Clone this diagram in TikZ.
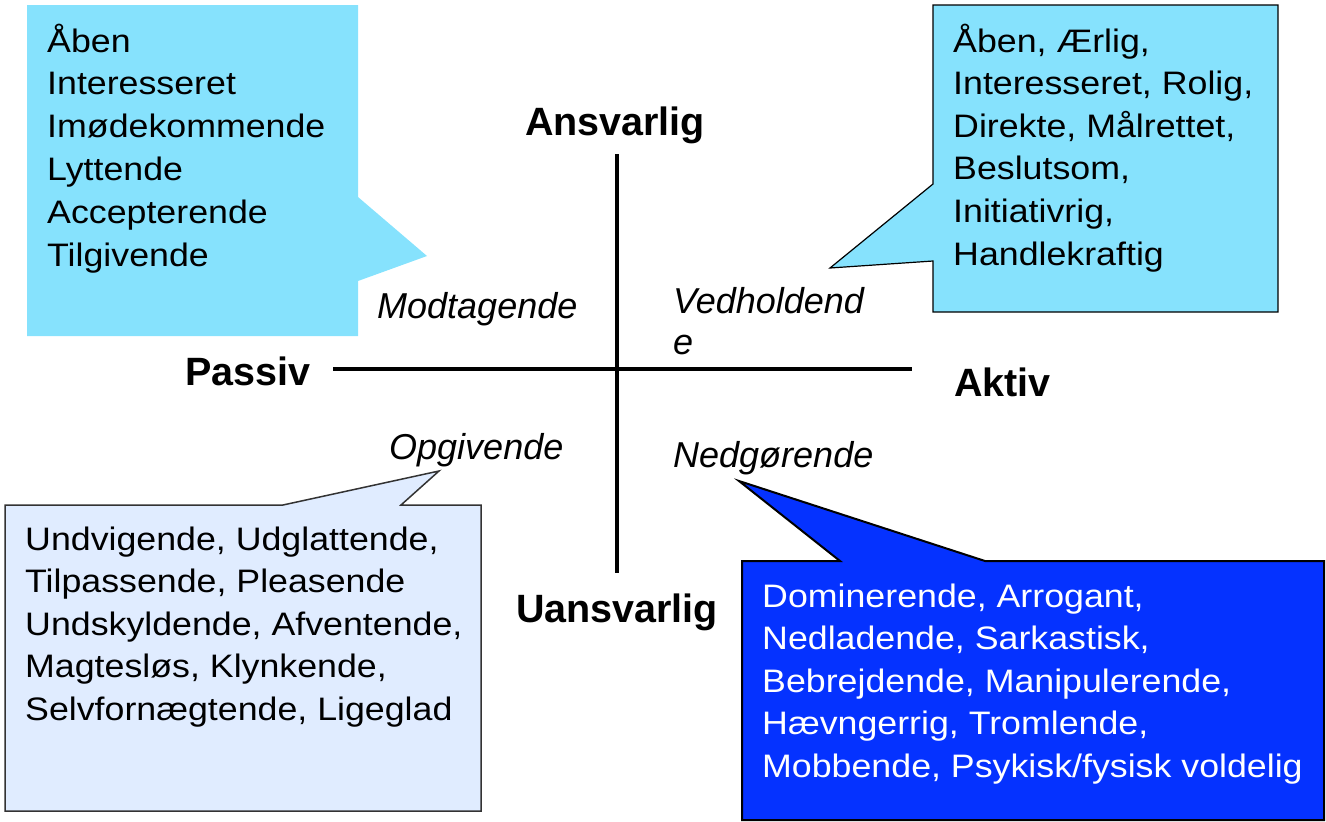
\documentclass[tikz,border=0pt]{standalone}
\usepackage{fontspec}
\setmainfont{Liberation Sans}
\newfontfamily\bodyfont[FakeStretch=1.1]{Liberation Sans}
\definecolor{lightcyan}{RGB}{134,226,253}
\definecolor{paleblue}{RGB}{224,236,255}
\definecolor{strongblue}{RGB}{5,50,255}
\begin{document}
\begin{tikzpicture}[x=1pt,y=-1pt,
  axis/.style={line width=4pt},
  pole/.style={font=\fontsize{39.5}{40}\selectfont\bfseries},
  mode/.style={font=\fontsize{36}{36}\selectfont\itshape, anchor=base west, inner sep=0pt},
  item/.style={font=\bodyfont\fontsize{32.5}{36}\selectfont, anchor=base west, inner sep=0pt}]
\useasboundingbox (0,0) rectangle (1326,822);

\fill[lightcyan] (27,5) -- (358,5) -- (358,197) -- (427,256) -- (358,281) -- (358,336) -- (27,336) -- cycle;
\filldraw[fill=lightcyan, draw=black, line width=1.2pt] (933,5) -- (1278,5) -- (1278,312) -- (933,312) -- (933,261) -- (830,268) -- (933,184) -- cycle;
\filldraw[fill=paleblue, draw=black!80, line width=1.5pt] (5,505) -- (283,505) -- (439,471) -- (401,505) -- (481,505) -- (481,811) -- (5,811) -- cycle;
\filldraw[fill=strongblue, draw=black, line width=2pt] (742,561) -- (840,561) -- (739,481) -- (985,561) -- (1324,561) -- (1324,820) -- (742,820) -- cycle;

\coordinate (top) at (617,154); \coordinate (bottom) at (617,573);
\coordinate (left) at (333,369); \coordinate (right) at (912,369);
\draw[axis] (top) -- (bottom);  \draw[axis] (left) -- (right);

\node[pole, anchor=base] (ansvarlig) at (615,135) {Ansvarlig};
\node[pole, anchor=base] (uansvarlig) at (617,622) {Uansvarlig};
\node[pole, anchor=base west, inner sep=0pt] (passiv) at (185,385) {Passiv};
\node[pole, anchor=base west, inner sep=0pt] (aktiv) at (954,396) {Aktiv};

\node[mode] (modtagende) at (377,318) {Modtagende};
\node[mode] (vedholdende) at (673,313) {Vedholdend};
\node[mode] (vedholdende2) at (673,354) {e};
\node[mode] (opgivende) at (389,459) {Opgivende};
\node[mode] (nedgorende) at (673,467) {Nedgørende};

\foreach \t [count=\i] in {Åben, Interesseret, Imødekommende, Lyttende, Accepterende, Tilgivende}
  \node[item] (tl\i) at (47,52+42.8*\i-42.8) {\t};
\foreach \t [count=\i] in {{Åben, Ærlig,}, {Interesseret, Rolig,}, {Direkte, Målrettet,}, {Beslutsom,}, {Initiativrig,}, {Handlekraftig}}
  \node[item] (tr\i) at (953,52+42.6*\i-42.6) {\t};
\foreach \t [count=\i] in {{Undvigende, Udglattende,}, {Tilpassende, Pleasende}, {Undskyldende, Afventende,}, {Magtesløs, Klynkende,}, {Selvfornægtende, Ligeglad}}
  \node[item] (bl\i) at (25,550+42.6*\i-42.6) {\t};
\foreach \t [count=\i] in {{Dominerende, Arrogant,}, {Nedladende, Sarkastisk,}, {Bebrejdende, Manipulerende,}, {Hævngerrig, Tromlende,}, {Mobbende, Psykisk/fysisk voldelig}}
  \node[item, text=white] (br\i) at (762,607+42.6*\i-42.6) {\t};
\end{tikzpicture}
\end{document}
